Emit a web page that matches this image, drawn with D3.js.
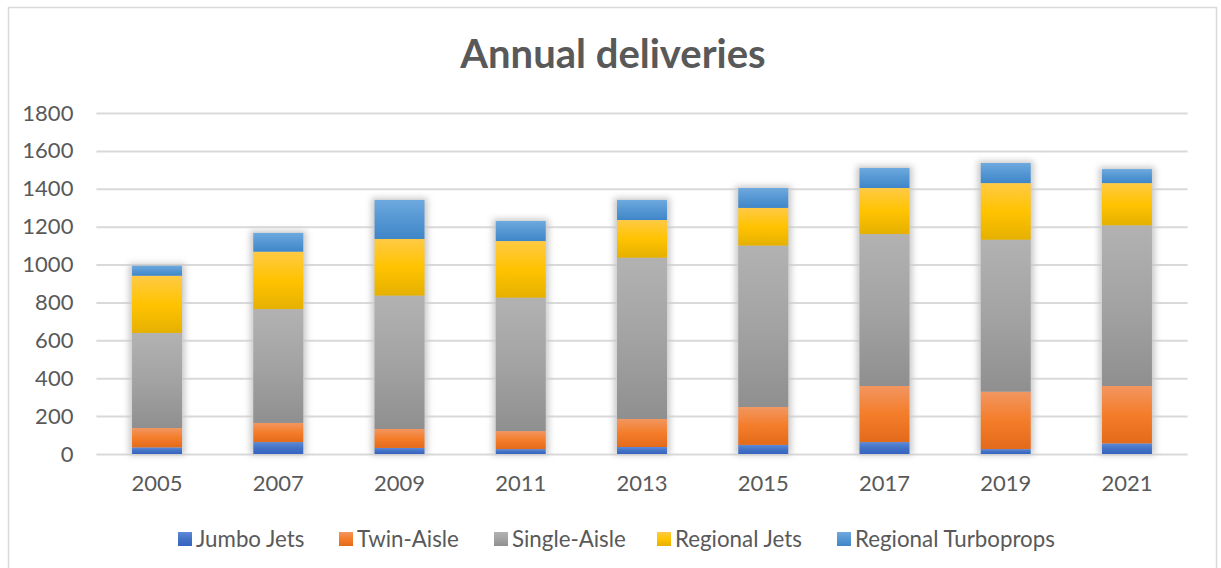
<!DOCTYPE html>
<html>
<head>
<meta charset="utf-8">
<style>
body {margin: 0; background: #fff; font-family: Lato, "Open Sans", sans-serif;}
</style>
<script src="https://cdnjs.cloudflare.com/ajax/libs/d3/7.8.5/d3.min.js"></script>
</head>
<body>
<div id="chart-container"></div>
<script>
    // data
    const years = ["2005", "2007", "2009", "2011", "2013", "2015", "2017", "2019", "2021"];
    const jumboJets = [35, 63, 32, 26, 37, 48, 63, 26, 56];
    const twinAisle = [102, 101, 100, 95, 148, 200, 296, 303, 303];
    const singleAisle = [502, 601, 704, 704, 851, 852, 802, 802, 848];
    const regionalJets = [302, 303, 299, 299, 199, 199, 243, 299, 223];
    const regionalTurboprops = [53, 99, 206, 106, 106, 105, 106, 106, 74];
    const seriesNames = ["Jumbo Jets", "Twin-Aisle", "Single-Aisle", "Regional Jets", "Regional Turboprops"];
    const yTicks = [0, 200, 400, 600, 800, 1000, 1200, 1400, 1600, 1800];

    const width = 1221, height = 568;
    const plot = {left: 96.4, right: 1187.6, top: 113, bottom: 454};

    // excel style gradient stops: light top, base, darker bottom
    const grads = {
        "Jumbo Jets": ["#5d89d8", "#4472c4", "#3563c2"],
        "Twin-Aisle": ["#f29660", "#f47d2a", "#e36a1a"],
        "Single-Aisle": ["#b2b2b2", "#a3a3a3", "#8f8f8f"],
        "Regional Jets": ["#ffca45", "#ffc300", "#e5b000"],
        "Regional Turboprops": ["#6ea9de", "#5597d3", "#3f86c8"]
    };

    const table = years.map((y, i) => ({
        year: y,
        "Jumbo Jets": jumboJets[i],
        "Twin-Aisle": twinAisle[i],
        "Single-Aisle": singleAisle[i],
        "Regional Jets": regionalJets[i],
        "Regional Turboprops": regionalTurboprops[i]
    }));

    const svg = d3.select("#chart-container")
        .append("svg")
        .attr("width", width)
        .attr("height", height);

    const defs = svg.append("defs");
    seriesNames.forEach((s, k) => {
        const g = defs.append("linearGradient")
            .attr("id", "grad" + k)
            .attr("x1", 0).attr("y1", 0).attr("x2", 0).attr("y2", 1);
        g.append("stop").attr("offset", "0%").attr("stop-color", grads[s][0]);
        g.append("stop").attr("offset", "50%").attr("stop-color", grads[s][1]);
        g.append("stop").attr("offset", "100%").attr("stop-color", grads[s][2]);
    });
    const shadow = defs.append("filter").attr("id", "shadow")
        .attr("x", "-30%").attr("y", "-10%").attr("width", "160%").attr("height", "120%");
    shadow.append("feGaussianBlur").attr("stdDeviation", 3);

    // chart frame
    svg.append("rect")
        .attr("x", 8.5).attr("y", 7.5)
        .attr("width", 1208).attr("height", 575)
        .attr("fill", "white")
        .attr("stroke", "#d9d9d9")
        .attr("stroke-width", 1.5);

    svg.append("text")
        .attr("x", 613).attr("y", 68)
        .attr("text-anchor", "middle")
        .style("font-size", "40px")
        .style("font-weight", "bold")
        .style("fill", "#595959")
        .text("Annual deliveries");

    const x = d3.scaleBand()
        .domain(years)
        .range([plot.left, plot.right])
        .paddingInner(0.588)
        .paddingOuter(0.294);

    const y = d3.scaleLinear()
        .domain([0, 1800])
        .range([plot.bottom, plot.top]);

    // gridlines + y labels
    const yAxis = svg.append("g")
        .attr("transform", `translate(${plot.left},0)`)
        .call(d3.axisLeft(y).tickValues(yTicks).tickFormat(d3.format("d"))
            .tickSize(-(plot.right - plot.left)).tickPadding(23));
    yAxis.select(".domain").remove();
    yAxis.selectAll(".tick line").attr("stroke", "#d9d9d9").attr("stroke-width", 2);
    yAxis.selectAll(".tick text")
        .style("font-family", "Lato, sans-serif")
        .style("font-size", "22px")
        .style("fill", "#595959");

    const xAxis = svg.append("g")
        .attr("transform", `translate(0,${plot.bottom})`)
        .call(d3.axisBottom(x).tickSize(0).tickPadding(21));
    xAxis.select(".domain").remove();
    xAxis.selectAll(".tick text")
        .style("font-family", "Lato, sans-serif")
        .style("font-size", "22px")
        .style("fill", "#595959");

    const stack = d3.stack().keys(seriesNames);
    const layers = stack(table);

    // soft shadow behind each column
    const totals = layers[layers.length - 1];
    svg.append("g")
        .attr("filter", "url(#shadow)")
        .selectAll("rect")
        .data(totals)
        .join("rect")
            .attr("x", d => x(d.data.year) - 3)
            .attr("y", d => y(d[1]) - 2)
            .attr("width", x.bandwidth() + 6)
            .attr("height", d => y(0) - y(d[1]) + 3)
            .attr("fill", "#c8c8c8");

    svg.append("g")
        .selectAll("g")
        .data(layers)
        .join("g")
            .attr("fill", (d, k) => `url(#grad${k})`)
        .selectAll("rect")
        .data(d => d)
        .join("rect")
            .attr("x", d => x(d.data.year))
            .attr("y", d => y(d[1]))
            .attr("width", x.bandwidth())
            .attr("height", d => y(d[0]) - y(d[1]));

    // legend
    const legendItems = [
        {name: "Jumbo Jets", x: 178},
        {name: "Twin-Aisle", x: 339},
        {name: "Single-Aisle", x: 494},
        {name: "Regional Jets", x: 657},
        {name: "Regional Turboprops", x: 837}
    ];
    const legend = svg.append("g");
    const li = legend.selectAll("g")
        .data(legendItems)
        .join("g")
            .attr("transform", d => `translate(${d.x},532)`);
    li.append("rect")
        .attr("width", 14).attr("height", 14)
        .attr("fill", d => `url(#grad${seriesNames.indexOf(d.name)})`);
    li.append("text")
        .attr("x", 18).attr("y", 14.5)
        .style("font-size", "22.3px")
        .style("fill", "#595959")
        .text(d => d.name);
</script>
</body>
</html>
